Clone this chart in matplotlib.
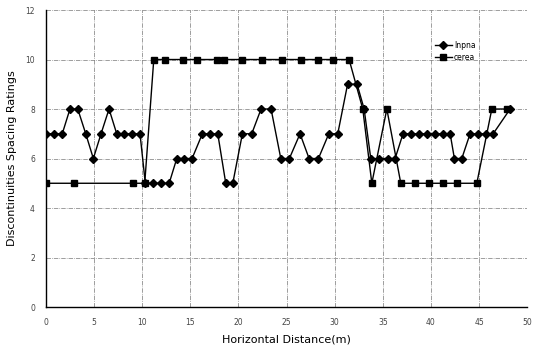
import matplotlib.pyplot as plt

# serie con rombos
x_inpna = [0, 0.86, 1.69, 2.49, 3.3, 4.13, 4.92, 5.72, 6.55, 7.35, 8.14, 8.97, 9.77,
           10.32, 11.15, 11.99, 12.8, 13.59, 14.38, 15.18, 16.25, 17.05, 17.85, 18.68,
           19.41, 20.41, 21.38, 22.35, 23.39, 24.4, 25.29, 26.4, 27.34, 28.31, 29.39,
           30.32, 31.34, 32.33, 33.06, 33.75, 34.65, 35.52, 36.28, 37.1, 37.9, 38.77,
           39.64, 40.44, 41.24, 42.0, 42.44, 43.21, 44.07, 44.94, 45.7, 46.47, 48.23]
y_inpna = [7, 7, 7, 8, 8, 7, 6, 7, 8, 7, 7, 7, 7,
           5, 5, 5, 5, 6, 6, 6, 7, 7, 7, 5,
           5, 7, 7, 8, 8, 6, 6, 7, 6, 6, 7,
           7, 9, 9, 8, 6, 6, 6, 6, 7, 7, 7,
           7, 7, 7, 7, 6, 6, 7, 7, 7, 7, 8]

# serie con cuadros
x_cerea = [0, 2.94, 8.99, 10.26, 11.2, 12.4, 14.27, 15.7, 17.74, 18.5, 20.37, 22.42,
           24.5, 26.5, 28.3, 29.87, 31.5, 32.92, 33.86, 35.42, 36.87, 38.3, 39.8,
           41.3, 42.76, 44.77, 46.33, 47.89]
y_cerea = [5, 5, 5, 5, 10, 10, 10, 10, 10, 10, 10, 10,
           10, 10, 10, 10, 10, 8, 5, 8, 5, 5, 5,
           5, 5, 5, 8, 8]

x_ticks = [0, 5, 10, 15, 20, 25, 30, 35, 40, 45, 50]
y_ticks = [0, 2, 4, 6, 8, 10, 12]

fig = plt.figure(figsize=(5.33, 3.49), dpi=100)
ax = fig.add_axes([0.0863, 0.1203, 0.9027, 0.851])

ax.plot(x_inpna, y_inpna, color='black', lw=1, marker='D', ms=3.8, label='Inpna')
ax.plot(x_cerea, y_cerea, color='black', lw=1, marker='s', ms=4.2, label='cerea')

ax.set_xlim(0, 50)
ax.set_ylim(0, 12)
ax.set_xticks(x_ticks)
ax.set_yticks(y_ticks)
ax.tick_params(length=0, labelsize=5.5, labelcolor='#444444', pad=8)

# rejilla punteada como en el original
ax.grid(True, linestyle='-.', color='#777777', lw=0.5)
ax.spines['top'].set_visible(False)
ax.spines['right'].set_visible(False)
ax.spines['left'].set_linewidth(1)
ax.spines['bottom'].set_linewidth(1)

ax.set_xlabel('Horizontal Distance(m)', fontsize=8, labelpad=5)
ax.set_ylabel('Discontinuities Spacing Ratings', fontsize=8, labelpad=6)

fig.legend(loc='upper left', bbox_to_anchor=(428 / 533, 1 - 34 / 349),
           frameon=False, fontsize=5.5, handlelength=2.2, handletextpad=0.3,
           labelspacing=0.4)

plt.savefig('out.png', dpi=100)
